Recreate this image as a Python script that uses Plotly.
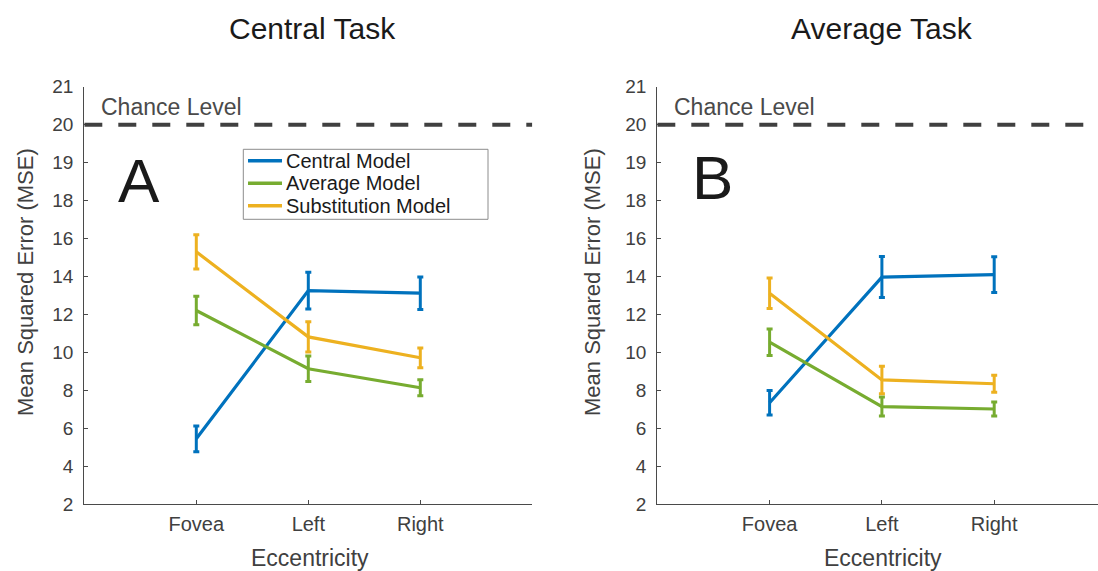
import plotly.graph_objects as go

# ---------------- data ----------------
categories = ["Fovea", "Left", "Right"]
series_names = ["Central Model", "Average Model", "Substitution Model"]

# Central Task (panel A)
ct_central = [5.45, 13.26, 13.12]
ct_central_err = [0.68, 0.97, 0.86]
ct_average = [12.21, 9.14, 8.14]
ct_average_err = [0.75, 0.67, 0.42]
ct_subst = [15.30, 10.82, 9.72]
ct_subst_err = [0.90, 0.80, 0.52]

# Average Task (panel B)
at_central = [7.35, 13.97, 14.10]
at_central_err = [0.64, 1.08, 0.94]
at_average = [10.54, 7.15, 7.02]
at_average_err = [0.70, 0.50, 0.37]
at_subst = [13.12, 8.55, 8.35]
at_subst_err = [0.80, 0.72, 0.45]

chance_level = 20
y_tick_values = [2, 4, 6, 8, 10, 12, 14, 16, 18, 19, 20, 21]

colors = ["#0072BD", "#77AC30", "#EDB120"]
FONT = "Liberation Sans, Arial, Helvetica, sans-serif"
AX = "#4a4a4a"


# piecewise y scale (2-unit steps up to 18, 1-unit steps above)
def ypos(v):
    return (v - 2) / 2 if v <= 18 else 8 + (v - 18)


fig = go.Figure()

panels = [
    (ct_central, ct_central_err, ct_average, ct_average_err, ct_subst, ct_subst_err),
    (at_central, at_central_err, at_average, at_average_err, at_subst, at_subst_err),
]

for p, data in enumerate(panels):
    xa = "x" if p == 0 else "x2"
    ya = "y" if p == 0 else "y2"
    for k in range(3):
        vals = data[2 * k]
        errs = data[2 * k + 1]
        yv = [ypos(v) for v in vals]
        up = [ypos(v + e) - ypos(v) for v, e in zip(vals, errs)]
        dn = [ypos(v) - ypos(v - e) for v, e in zip(vals, errs)]
        fig.add_trace(go.Scatter(
            x=categories, y=yv, mode="lines",
            name=series_names[k], legendgroup=series_names[k],
            showlegend=False,
            line=dict(color=colors[k], width=3.2),
            error_y=dict(type="data", array=up, arrayminus=dn, symmetric=False,
                         color=colors[k], thickness=3, width=3),
            xaxis=xa, yaxis=ya,
            customdata=vals,
            hovertemplate="%{x}: %{customdata}<extra>%{fullData.name}</extra>",
        ))

W, H = 1098, 571
ybot, ytop = 504.3, 86.7
ydom = [1 - ybot / H, 1 - ytop / H]

common_y = dict(
    range=[0, ypos(21)], tickmode="array",
    tickvals=[ypos(v) for v in y_tick_values],
    ticktext=[str(v) for v in y_tick_values],
    ticks="inside", ticklen=4, tickcolor=AX, tickwidth=1,
    showline=True, linecolor=AX, linewidth=1.2,
    showgrid=False, zeroline=False,
    tickfont=dict(family=FONT, size=19, color="#404040"),
    ticklabelstandoff=6, domain=ydom, fixedrange=True,
)
common_x = dict(
    type="category", tickmode="array", tickvals=categories, ticktext=categories,
    ticks="inside", ticklen=4, tickcolor=AX, tickwidth=1,
    showline=True, linecolor=AX, linewidth=1.2,
    showgrid=False, zeroline=False,
    tickfont=dict(family=FONT, size=20, color="#404040"),
    ticklabelstandoff=2, fixedrange=True,
)

x1_left, x1_right = 84.3, 532.3
x2_left = 657.3
step2 = 112.3
x2_end = -1 + (W - x2_left) / step2

fig.update_layout(
    template="none",
    width=W, height=H,
    margin=dict(l=0, r=0, t=0, b=0),
    paper_bgcolor="white", plot_bgcolor="white",
    font=dict(family=FONT, color="#404040"),
    xaxis=dict(common_x, domain=[x1_left / W, x1_right / W], range=[-1, 3], anchor="y"),
    yaxis=dict(common_y, anchor="x"),
    xaxis2=dict(common_x, domain=[x2_left / W, 1.0], range=[-1, x2_end], anchor="y2"),
    yaxis2=dict(common_y, anchor="x2"),
    showlegend=False,
)

# chance level dashed lines
for xa, ya, xend in [("x", "y", 3), ("x2", "y2", x2_end)]:
    fig.add_shape(type="line", xref=xa, yref=ya, x0=-1, x1=xend,
                  y0=ypos(chance_level), y1=ypos(chance_level),
                  line=dict(color="#404040", width=4, dash="18px,16px"))


def px(x):
    return x / W


def py(y):
    return 1 - y / H


# legend box (panel A)
fig.add_shape(type="rect", xref="paper", yref="paper",
              x0=px(243.3), x1=px(488), y0=py(219.3), y1=py(149.3),
              line=dict(color="#8c8c8c", width=1), fillcolor="white", layer="above")

annotations = []
legend_rows = [160.7, 183.3, 205.7]
for k, yy in enumerate(legend_rows):
    fig.add_shape(type="line", xref="paper", yref="paper",
                  x0=px(248), x1=px(282), y0=py(yy), y1=py(yy),
                  line=dict(color=colors[k], width=3.5), layer="above")
    annotations.append(dict(text=series_names[k], xref="paper", yref="paper",
                            x=px(284.5), y=py(yy), xanchor="left", yanchor="middle",
                            showarrow=False,
                            font=dict(family=FONT, size=20, color="#1a1a1a")))

for xa, ya in [("x", "y"), ("x2", "y2")]:
    annotations.append(dict(text="Chance Level", xref=xa, yref=ya, x=-0.87, y=10.47,
                            xanchor="left", yanchor="middle", showarrow=False,
                            font=dict(family=FONT, size=23, color="#4a4a4a")))
annotations.append(dict(text="A", xref="x", yref="y", x=-0.51, y=8.52,
                        xanchor="center", yanchor="middle", showarrow=False,
                        font=dict(family=FONT, size=62, color="#1a1a1a")))
annotations.append(dict(text="B", xref="x2", yref="y2", x=-0.51, y=8.6,
                        xanchor="center", yanchor="middle", showarrow=False,
                        font=dict(family=FONT, size=62, color="#1a1a1a")))
# titles
for txt, cx in [("Central Task", 312), ("Average Task", 882)]:
    annotations.append(dict(text=txt, xref="paper", yref="paper", x=cx / W, y=1 - 29 / H,
                            xanchor="center", yanchor="middle", showarrow=False,
                            font=dict(family=FONT, size=30, color="#1a1a1a")))
# axis titles
for cx in [310, 883]:
    annotations.append(dict(text="Eccentricity", xref="paper", yref="paper", x=cx / W, y=1 - 558 / H,
                            xanchor="center", yanchor="middle", showarrow=False,
                            font=dict(family=FONT, size=23, color="#404040")))
for cx in [25, 592]:
    annotations.append(dict(text="Mean Squared Error (MSE)", xref="paper", yref="paper",
                            x=cx / W, y=1 - 282 / H, textangle=-90,
                            xanchor="center", yanchor="middle", showarrow=False,
                            font=dict(family=FONT, size=22, color="#404040")))
fig.update_layout(annotations=annotations)

fig.write_html("out.html", config={"displayModeBar": False},
               post_script="document.body.style.margin='0';document.body.style.overflow='hidden';")
